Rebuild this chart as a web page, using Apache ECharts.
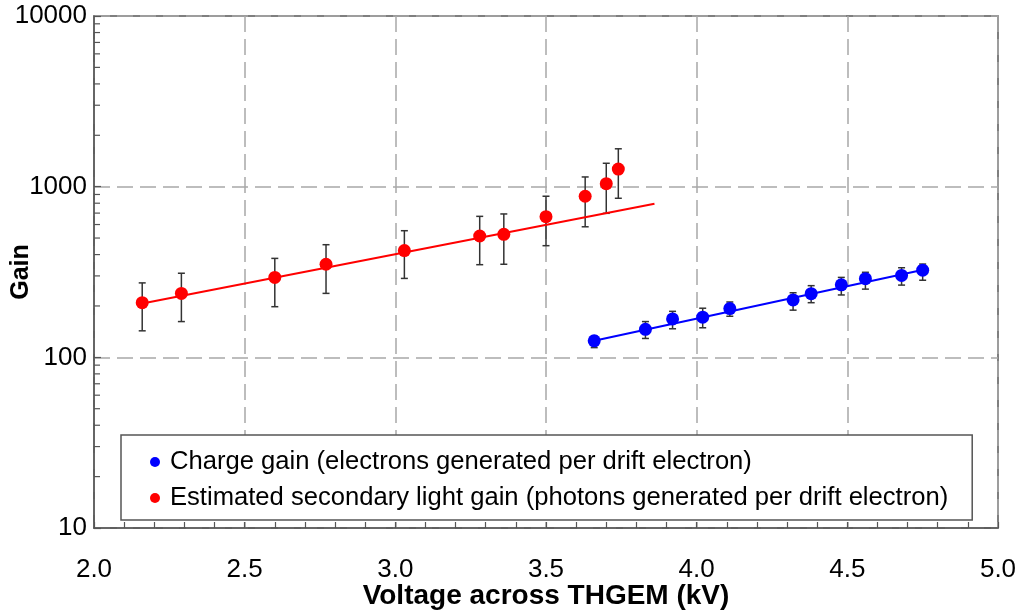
<!DOCTYPE html>
<html>
<head>
<meta charset="utf-8">
<title>THGEM gain vs voltage</title>
<script src="https://cdn.jsdelivr.net/npm/echarts@6/dist/echarts.min.js"></script>
<style>
  html, body { margin: 0; padding: 0; background: #fff; }
  #chart { width: 1020px; height: 612px; }
</style>
</head>
<body>
<div id="chart"></div>
<script>
// Estimated secondary light gain (red)
const lightVoltage   = [2.16, 2.29, 2.60, 2.77, 3.03, 3.28, 3.36, 3.50, 3.63, 3.70, 3.74];
const lightGain      = [209, 237, 294, 351, 422, 514, 526, 667, 879, 1041, 1268];
const lightGainLow   = [143, 162, 198, 237, 290, 349, 351, 451, 582, 698, 855];
const lightGainHigh  = [273, 311, 380, 457, 552, 670, 692, 879, 1140, 1371, 1667];
const lightFitVoltage = [2.16, 3.86];
const lightFitGain    = [207, 794];

// Charge gain (blue)
const chargeVoltage  = [3.66, 3.83, 3.92, 4.02, 4.11, 4.32, 4.38, 4.48, 4.56, 4.68, 4.75];
const chargeGain     = [125, 146, 168, 172, 193, 217, 236, 266, 289, 302, 324];
const chargeGainLow  = [114, 129, 147, 149, 174, 189, 209, 232, 251, 265, 283];
const chargeGainHigh = [133, 162, 186, 194, 211, 239, 263, 294, 315, 335, 352];
const chargeFitVoltage = [3.66, 4.76];
const chargeFitGain    = [125, 328];

// Axis ranges and ticks
const xMin = 2.0, xMax = 5.0, xStep = 0.5;
const yMin = 10, yMax = 10000;
const yMinorTicks = [20, 30, 40, 50, 60, 70, 80, 90,
                     200, 300, 400, 500, 600, 700, 800, 900,
                     2000, 3000, 4000, 5000, 6000, 7000, 8000, 9000];

const chargeName = 'Charge gain (electrons generated per drift electron)';
const lightName  = 'Estimated secondary light gain (photons generated per drift electron)';

const FONT = "'Liberation Sans', Arial, Helvetica, sans-serif";
const AXIS_COLOR = '#555';
const BAR_COLOR = '#333';

const zip = (a, b) => a.map((v, i) => [v, b[i]]);
const zip3 = (a, b, c) => a.map((v, i) => [v, b[i], c[i]]);

function errorBarItem(params, api) {
  const x = api.value(0);
  const top = api.coord([x, api.value(2)]);
  const bot = api.coord([x, api.value(1)]);
  const hw = 3.5;
  const style = { stroke: BAR_COLOR, lineWidth: 1.5 };
  return {
    type: 'group',
    children: [
      { type: 'line', shape: { x1: top[0], y1: top[1], x2: bot[0], y2: bot[1] }, style },
      { type: 'line', shape: { x1: top[0] - hw, y1: top[1], x2: top[0] + hw, y2: top[1] }, style },
      { type: 'line', shape: { x1: bot[0] - hw, y1: bot[1], x2: bot[0] + hw, y2: bot[1] }, style }
    ]
  };
}

function minorTickItem(params, api) {
  const p = api.coord([xMin, api.value(0)]);
  return {
    type: 'line',
    shape: { x1: p[0], y1: p[1], x2: p[0] + 6, y2: p[1] },
    style: { stroke: AXIS_COLOR, lineWidth: 1.2 }
  };
}

const chart = echarts.init(document.getElementById('chart'), null, { renderer: 'canvas' });

chart.setOption({
  animation: false,
  backgroundColor: '#fff',
  textStyle: { fontFamily: FONT },
  grid: {
    left: 94, right: 22, top: 16, bottom: 84,
    containLabel: false,
    outerBoundsMode: 'none',
    show: true, borderColor: AXIS_COLOR, borderWidth: 1.5
  },
  legend: {
    data: [chargeName, lightName],
    orient: 'vertical',
    left: 121, top: 435,
    selectedMode: false,
    backgroundColor: '#fff',
    borderColor: AXIS_COLOR,
    borderWidth: 1.5,
    padding: [14, 24, 9, 29],
    itemGap: 10,
    itemWidth: 20,
    itemHeight: 10,
    icon: 'circle',
    textStyle: { fontSize: 25.6, color: '#000', fontFamily: FONT },
    z: 10
  },
  xAxis: {
    type: 'value',
    min: xMin, max: xMax, interval: xStep,
    name: 'Voltage across THGEM (kV)',
    nameLocation: 'middle',
    nameGap: 54,
    nameMoveOverlap: false,
    nameTextStyle: { fontSize: 28, fontWeight: 'bold', color: '#000', fontFamily: FONT },
    axisLine: { lineStyle: { color: AXIS_COLOR, width: 1.5 } },
    axisTick: { inside: true, length: 6, lineStyle: { color: AXIS_COLOR, width: 1.2 } },
    minorTick: { show: true, splitNumber: 5, length: 6, lineStyle: { color: AXIS_COLOR, width: 1.2 } },
    axisLabel: { fontSize: 26, color: '#000', margin: 29, formatter: v => v.toFixed(1), fontFamily: FONT },
    splitLine: { show: true, lineStyle: { color: '#a8a8a8', width: 1.5, type: [16, 7] } }
  },
  yAxis: {
    type: 'log',
    logBase: 10,
    min: yMin, max: yMax,
    name: 'Gain',
    nameLocation: 'middle',
    nameGap: 60,
    nameMoveOverlap: false,
    nameTextStyle: { fontSize: 25, fontWeight: 'bold', color: '#000', fontFamily: FONT },
    axisLine: { lineStyle: { color: AXIS_COLOR, width: 1.5 } },
    axisTick: { inside: true, length: 7, lineStyle: { color: AXIS_COLOR, width: 1.2 } },
    axisLabel: { fontSize: 26, color: '#000', margin: 7, formatter: v => String(Math.round(v)), fontFamily: FONT },
    splitLine: { show: true, lineStyle: { color: '#a8a8a8', width: 1.5, type: [16, 7] } }
  },
  series: [
    {
      name: 'y minor ticks',
      type: 'custom',
      silent: true,
      renderItem: minorTickItem,
      encode: { y: 0 },
      data: yMinorTicks.map(v => [v]),
      z: 1
    },
    {
      name: 'light error',
      type: 'custom',
      silent: true,
      renderItem: errorBarItem,
      encode: { x: 0, y: [1, 2] },
      data: zip3(lightVoltage, lightGainLow, lightGainHigh),
      z: 2
    },
    {
      name: 'charge error',
      type: 'custom',
      silent: true,
      renderItem: errorBarItem,
      encode: { x: 0, y: [1, 2] },
      data: zip3(chargeVoltage, chargeGainLow, chargeGainHigh),
      z: 2
    },
    {
      name: 'light fit',
      type: 'line',
      symbol: 'none',
      silent: true,
      lineStyle: { color: '#ff0000', width: 2 },
      data: zip(lightFitVoltage, lightFitGain),
      z: 3
    },
    {
      name: 'charge fit',
      type: 'line',
      symbol: 'none',
      silent: true,
      lineStyle: { color: '#0000ff', width: 2 },
      data: zip(chargeFitVoltage, chargeFitGain),
      z: 3
    },
    {
      name: chargeName,
      type: 'scatter',
      symbol: 'circle',
      symbolSize: 13,
      itemStyle: { color: '#0000ff', opacity: 1 },
      data: zip(chargeVoltage, chargeGain),
      z: 4
    },
    {
      name: lightName,
      type: 'scatter',
      symbol: 'circle',
      symbolSize: 13,
      itemStyle: { color: '#ff0000', opacity: 1 },
      data: zip(lightVoltage, lightGain),
      z: 4
    }
  ]
});
</script>
</body>
</html>
